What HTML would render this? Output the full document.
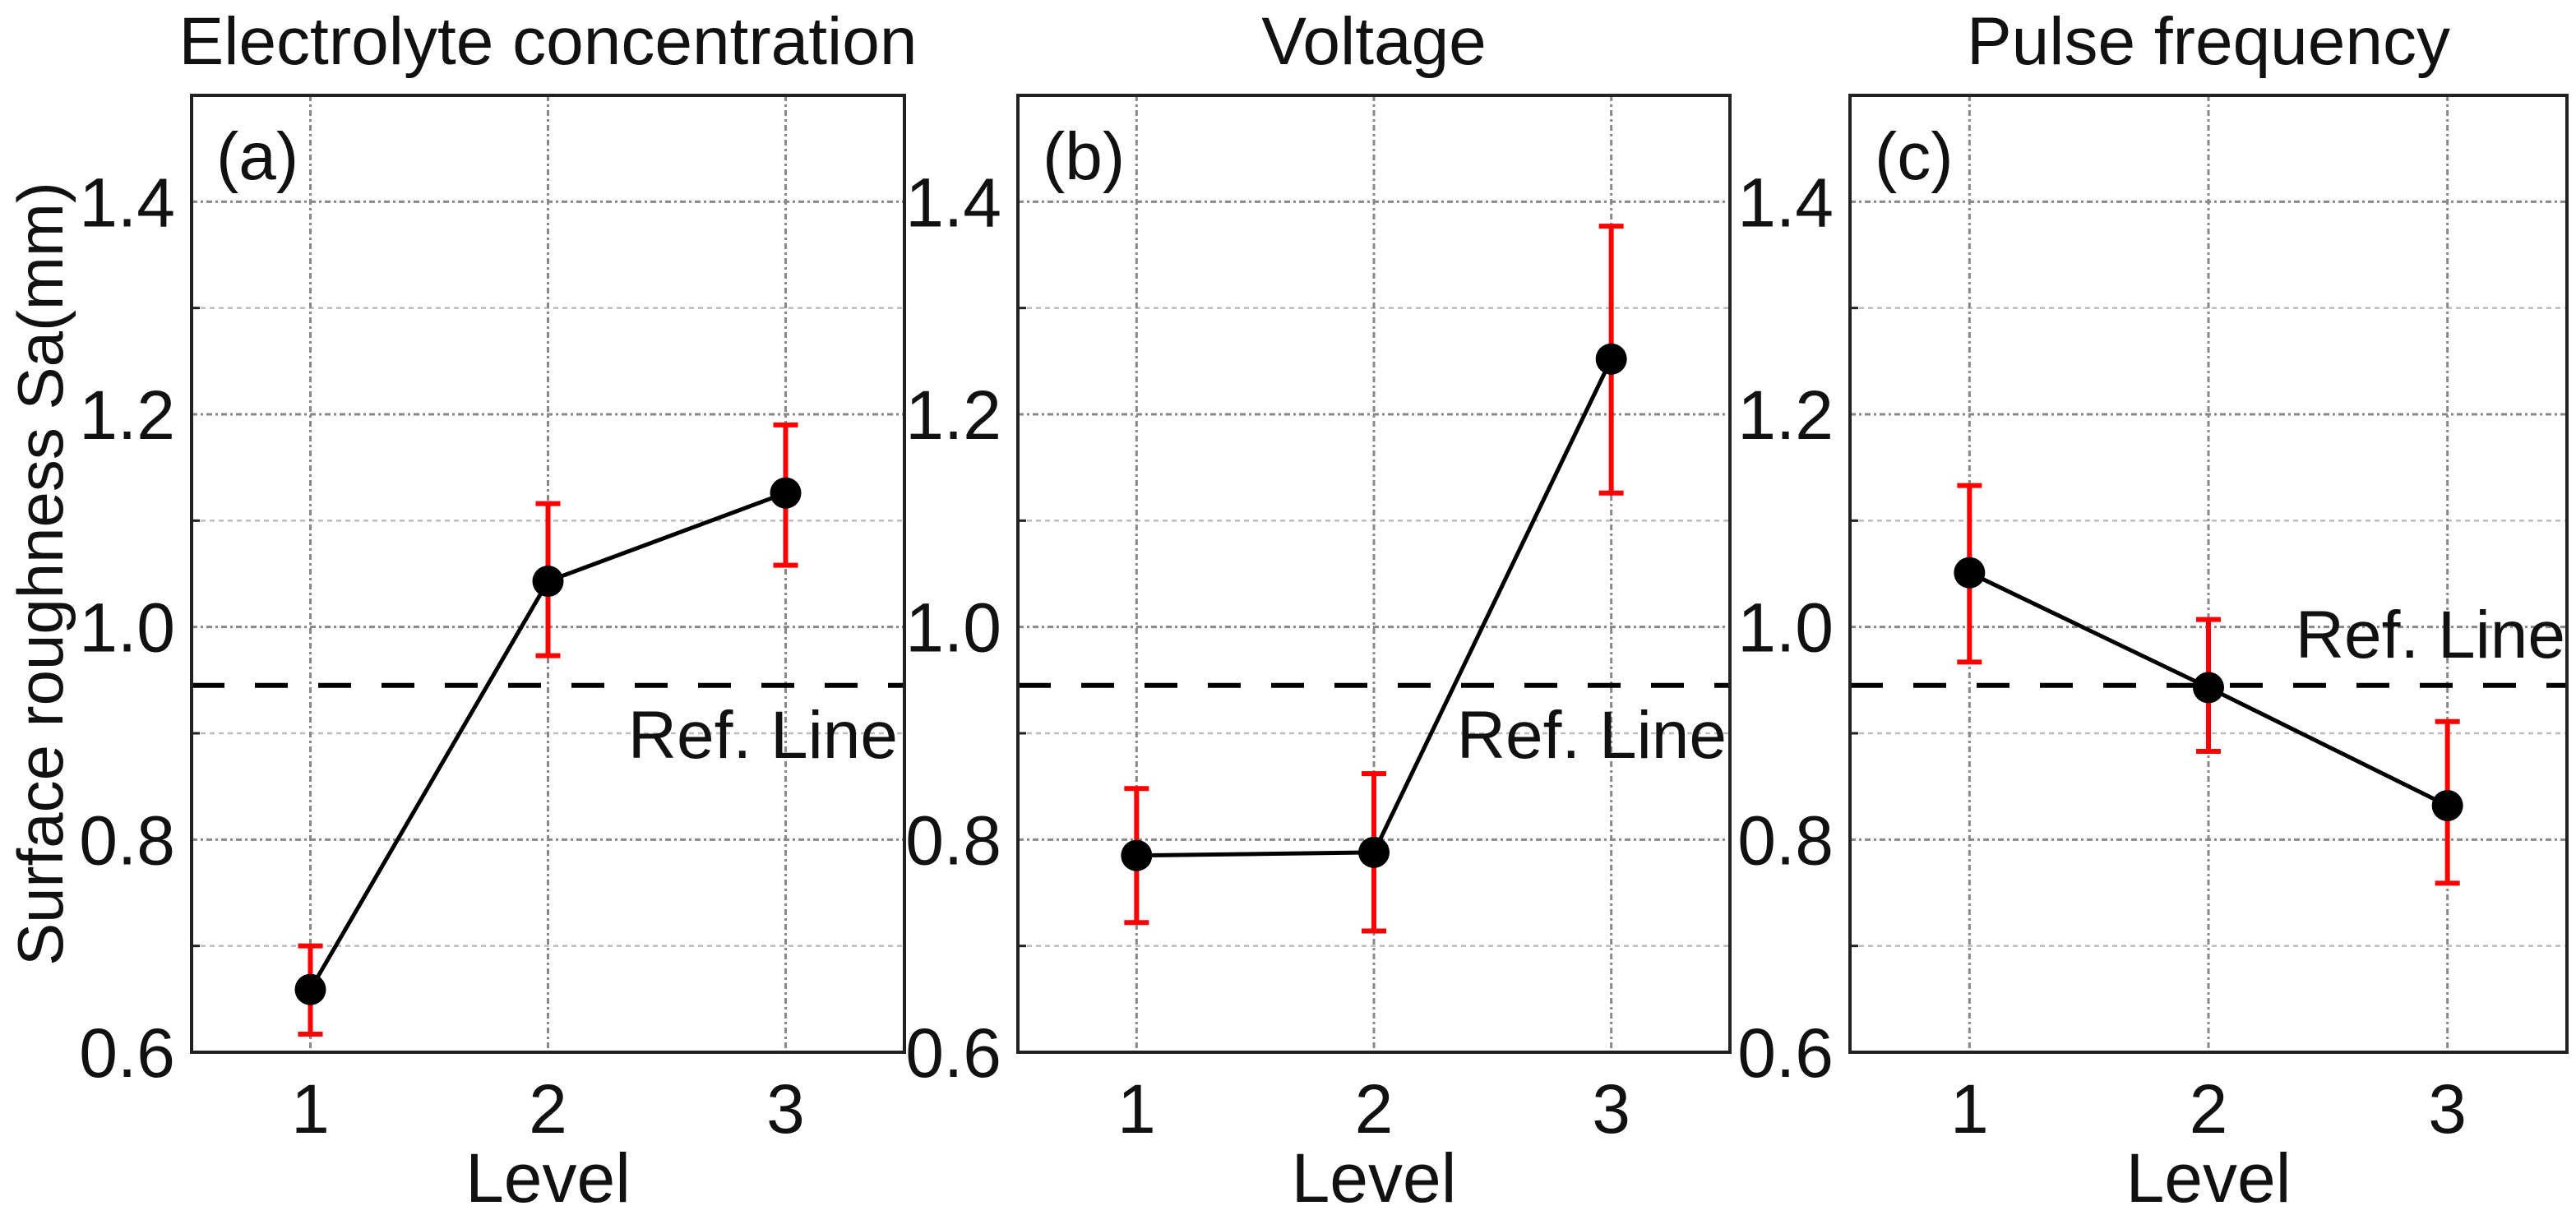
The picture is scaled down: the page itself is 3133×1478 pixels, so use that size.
<!DOCTYPE html>
<html><head><meta charset="utf-8"><style>
html,body{margin:0;padding:0;background:#fff;}
svg{display:block;font-family:"Liberation Sans",Arial,sans-serif;}
</style></head><body>
<svg id="fig" width="3133" height="1478" viewBox="0 0 3133 1478" xmlns="http://www.w3.org/2000/svg"></svg>
<script>
const levels = [1, 2, 3];
const panelTitles = ["Electrolyte concentration", "Voltage", "Pulse frequency"];
const panelTags = ["(a)", "(b)", "(c)"];
const meanA = [0.659, 1.043, 1.126];
const upperA = [0.700, 1.116, 1.190];
const lowerA = [0.617, 0.973, 1.058];
const meanB = [0.785, 0.788, 1.252];
const upperB = [0.848, 0.862, 1.377];
const lowerB = [0.722, 0.714, 1.126];
const meanC = [1.051, 0.943, 0.832];
const upperC = [1.133, 1.007, 0.911];
const lowerC = [0.967, 0.883, 0.759];
const refValue = 0.945;
const yTicks = [0.6, 0.8, 1.0, 1.2, 1.4];
const yTickLabels = ["0.6", "0.8", "1.0", "1.2", "1.4"];
const yMinor = [0.7, 0.9, 1.1, 1.3];

const NS = "http://www.w3.org/2000/svg";
const svgEl = document.getElementById("fig");
function mk(tag, attrs, parent) {
  const e = document.createElementNS(NS, tag);
  for (const k in attrs) e.setAttribute(k, attrs[k]);
  (parent || svgEl).appendChild(e);
  return e;
}
const panels = [
  {x0: 233, x1: 1100, mean: meanA, up: upperA, lo: lowerA, refX: 1092, refY: 922},
  {x0: 1238, x1: 2104, mean: meanB, up: upperB, lo: lowerB, refX: 2100, refY: 922},
  {x0: 2250, x1: 3122, mean: meanC, up: upperC, lo: lowerC, refX: 3120, refY: 800}
];
const plotTop = 116, plotBottom = 1280, yMin = 0.6, yMax = 1.5;
function yS(v) { return plotBottom - (v - yMin) / (yMax - yMin) * (plotBottom - plotTop); }

panels.forEach((p, i) => {
  const g = mk("g", {});
  
  
  const xS = v => p.x0 + (v - 0.5) / 3 * (p.x1 - p.x0);
  yMinor.forEach(v => {
    const l = mk("line", {x1: p.x0, x2: p.x1, y1: yS(v), y2: yS(v), stroke: "#bbb", "stroke-width": 2.5, "stroke-dasharray": "6 5"}, g);
    
    
    const t = mk("line", {x1: p.x0, x2: p.x0 + 10, y1: yS(v), y2: yS(v), stroke: "#222", "stroke-width": 3}, g);
    
    
  });
  yTicks.forEach((v, k) => {
    const l = mk("line", {x1: p.x0, x2: p.x1, y1: yS(v), y2: yS(v), stroke: "#888", "stroke-width": 3, "stroke-dasharray": "7 4 3 4"}, g);
    
    
    const t = mk("text", {x: p.x0 - 20, y: yS(v) + 30, "font-size": 84, "text-anchor": "end", fill: "#111"}, g);
    t.textContent = yTickLabels[k];
    
    
  });
  levels.forEach(lv => {
    const l = mk("line", {x1: xS(lv), x2: xS(lv), y1: plotTop, y2: plotBottom, stroke: "#888", "stroke-width": 3, "stroke-dasharray": "7 4 3 4"}, g);
    
    
    const t = mk("text", {x: xS(lv), y: 1378, "font-size": 84, "text-anchor": "middle", fill: "#111"}, g);
    t.textContent = String(lv);
    
    
  });
  const rl = mk("line", {x1: p.x0, x2: p.x1, y1: yS(refValue), y2: yS(refValue), stroke: "#000", "stroke-width": 6, "stroke-dasharray": "40 37"}, g);
  
  
  const rt = mk("text", {x: p.refX, y: p.refY, "font-size": 82, "text-anchor": "end", fill: "#111"}, g);
  rt.textContent = "Ref. Line";
  
  
  const pts = levels.map((lv, k) => xS(lv) + "," + yS(p.mean[k])).join(" ");
  const pl = mk("polyline", {points: pts, fill: "none", stroke: "#000", "stroke-width": 5}, g);
  
  
  levels.forEach((lv, k) => {
    const x = xS(lv);
    const eb = mk("path", {d: `M${x},${yS(p.up[k])}V${yS(p.lo[k])}M${x-15},${yS(p.up[k])}H${x+15}M${x-15},${yS(p.lo[k])}H${x+15}`, stroke: "#f00", "stroke-width": 6, fill: "none"}, g);
    
    
    const c = mk("circle", {cx: x, cy: yS(p.mean[k]), r: 19, fill: "#000"}, g);
    
    
  });
  const fr = mk("rect", {x: p.x0, y: plotTop, width: p.x1 - p.x0, height: plotBottom - plotTop, fill: "none", stroke: "#222", "stroke-width": 4}, g);
  
  
  const tg = mk("text", {x: p.x0 + 30, y: 218, "font-size": 82, fill: "#111"}, g);
  tg.textContent = panelTags[i];
  
  
  const ti = mk("text", {x: (p.x0 + p.x1) / 2, y: 78, "font-size": 82, "text-anchor": "middle", fill: "#111"}, g);
  ti.textContent = panelTitles[i];
  
  
  const xl = mk("text", {x: (p.x0 + p.x1) / 2, y: 1462, "font-size": 84, "text-anchor": "middle", fill: "#111"}, g);
  xl.textContent = "Level";
  
  
});
const yt = mk("text", {x: 0, y: 0, "font-size": 78, "text-anchor": "middle", fill: "#111", transform: "translate(76,698) rotate(-90)"});
yt.textContent = "Surface roughness Sa(mm)";


</script>
</body></html>
